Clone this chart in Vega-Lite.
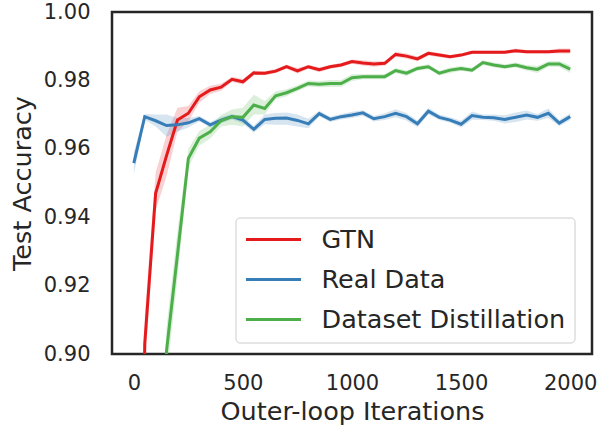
{
  "$schema": "https://vega.github.io/schema/vega-lite/v6.json",
  "width": 480,
  "height": 342,
  "autosize": "none",
  "padding": {"left": 112, "top": 12, "right": 8, "bottom": 77},
  "background": "white",
  "config": {
    "font": "DejaVu Sans",
    "view": {"stroke": "#262626", "strokeWidth": 2.5},
    "axis": {"grid": false, "ticks": false, "domain": false, "labelColor": "#262626", "titleColor": "#262626", "labelFontSize": 21, "titleFontSize": 25.5, "titleFontWeight": "normal", "labelFont": "DejaVu Sans", "titleFont": "DejaVu Sans"},
    "legend": {"labelFont": "DejaVu Sans"}
  },
  "data": {"values": [
    {"g":"GTN","x":0,"m":0.60,"lo":0.55,"hi":0.65},
    {"g":"GTN","x":50,"m":0.903,"lo":0.895,"hi":0.911},
    {"g":"GTN","x":100,"m":0.947,"lo":0.942,"hi":0.953},
    {"g":"GTN","x":150,"m":0.958,"lo":0.952,"hi":0.964},
    {"g":"GTN","x":200,"m":0.9684,"lo":0.965,"hi":0.972},
    {"g":"GTN","x":250,"m":0.9704,"lo":0.968,"hi":0.9725},
    {"g":"GTN","x":300,"m":0.9752,"lo":0.9735,"hi":0.9768},
    {"g":"GTN","x":350,"m":0.9772,"lo":0.976,"hi":0.9784},
    {"g":"GTN","x":400,"m":0.978,"lo":0.977,"hi":0.979},
    {"g":"GTN","x":450,"m":0.9803,"lo":0.9795,"hi":0.9811},
    {"g":"GTN","x":500,"m":0.9796,"lo":0.9788,"hi":0.9804},
    {"g":"GTN","x":550,"m":0.9822,"lo":0.9816,"hi":0.9828},
    {"g":"GTN","x":600,"m":0.9821,"lo":0.9815,"hi":0.9827},
    {"g":"GTN","x":650,"m":0.9827,"lo":0.9821,"hi":0.9833},
    {"g":"GTN","x":700,"m":0.984,"lo":0.9834,"hi":0.9846},
    {"g":"GTN","x":750,"m":0.9828,"lo":0.982,"hi":0.9836},
    {"g":"GTN","x":800,"m":0.984,"lo":0.9834,"hi":0.9846},
    {"g":"GTN","x":850,"m":0.9831,"lo":0.9824,"hi":0.9838},
    {"g":"GTN","x":900,"m":0.984,"lo":0.9834,"hi":0.9846},
    {"g":"GTN","x":950,"m":0.9845,"lo":0.9839,"hi":0.9851},
    {"g":"GTN","x":1000,"m":0.9855,"lo":0.9849,"hi":0.9861},
    {"g":"GTN","x":1050,"m":0.9851,"lo":0.9843,"hi":0.9859},
    {"g":"GTN","x":1100,"m":0.9848,"lo":0.984,"hi":0.9856},
    {"g":"GTN","x":1150,"m":0.985,"lo":0.9843,"hi":0.9857},
    {"g":"GTN","x":1200,"m":0.9876,"lo":0.9869,"hi":0.9883},
    {"g":"GTN","x":1250,"m":0.9871,"lo":0.9863,"hi":0.9879},
    {"g":"GTN","x":1300,"m":0.9863,"lo":0.9856,"hi":0.987},
    {"g":"GTN","x":1350,"m":0.9879,"lo":0.9873,"hi":0.9885},
    {"g":"GTN","x":1400,"m":0.9874,"lo":0.9868,"hi":0.988},
    {"g":"GTN","x":1450,"m":0.9869,"lo":0.9864,"hi":0.9874},
    {"g":"GTN","x":1500,"m":0.9874,"lo":0.9869,"hi":0.9879},
    {"g":"GTN","x":1550,"m":0.9882,"lo":0.9877,"hi":0.9887},
    {"g":"GTN","x":1600,"m":0.9882,"lo":0.9877,"hi":0.9887},
    {"g":"GTN","x":1650,"m":0.9882,"lo":0.9877,"hi":0.9887},
    {"g":"GTN","x":1700,"m":0.9882,"lo":0.9877,"hi":0.9887},
    {"g":"GTN","x":1750,"m":0.9887,"lo":0.9881,"hi":0.9893},
    {"g":"GTN","x":1800,"m":0.9884,"lo":0.9879,"hi":0.9889},
    {"g":"GTN","x":1850,"m":0.9884,"lo":0.9879,"hi":0.9889},
    {"g":"GTN","x":1900,"m":0.9884,"lo":0.9879,"hi":0.9889},
    {"g":"GTN","x":1950,"m":0.9886,"lo":0.9879,"hi":0.9893},
    {"g":"GTN","x":2000,"m":0.9886,"lo":0.9879,"hi":0.9893},
    {"g":"Real Data","x":0,"m":0.9558,"lo":0.9525,"hi":0.959},
    {"g":"Real Data","x":50,"m":0.9694,"lo":0.9685,"hi":0.9702},
    {"g":"Real Data","x":100,"m":0.9682,"lo":0.9665,"hi":0.97},
    {"g":"Real Data","x":150,"m":0.9668,"lo":0.9635,"hi":0.97},
    {"g":"Real Data","x":200,"m":0.967,"lo":0.965,"hi":0.969},
    {"g":"Real Data","x":250,"m":0.9676,"lo":0.9662,"hi":0.969},
    {"g":"Real Data","x":300,"m":0.9688,"lo":0.968,"hi":0.9696},
    {"g":"Real Data","x":350,"m":0.967,"lo":0.9662,"hi":0.9678},
    {"g":"Real Data","x":400,"m":0.9684,"lo":0.9675,"hi":0.9693},
    {"g":"Real Data","x":450,"m":0.9694,"lo":0.9686,"hi":0.9702},
    {"g":"Real Data","x":500,"m":0.9684,"lo":0.9674,"hi":0.9694},
    {"g":"Real Data","x":550,"m":0.9657,"lo":0.9647,"hi":0.9667},
    {"g":"Real Data","x":600,"m":0.9686,"lo":0.9672,"hi":0.97},
    {"g":"Real Data","x":650,"m":0.9689,"lo":0.967,"hi":0.9705},
    {"g":"Real Data","x":700,"m":0.969,"lo":0.967,"hi":0.9706},
    {"g":"Real Data","x":750,"m":0.9683,"lo":0.9665,"hi":0.97},
    {"g":"Real Data","x":800,"m":0.9673,"lo":0.966,"hi":0.9688},
    {"g":"Real Data","x":850,"m":0.9703,"lo":0.9695,"hi":0.9711},
    {"g":"Real Data","x":900,"m":0.9686,"lo":0.9678,"hi":0.9694},
    {"g":"Real Data","x":950,"m":0.9694,"lo":0.9686,"hi":0.9702},
    {"g":"Real Data","x":1000,"m":0.9699,"lo":0.969,"hi":0.9708},
    {"g":"Real Data","x":1050,"m":0.9705,"lo":0.9697,"hi":0.9713},
    {"g":"Real Data","x":1100,"m":0.9688,"lo":0.968,"hi":0.9696},
    {"g":"Real Data","x":1150,"m":0.9694,"lo":0.9684,"hi":0.9704},
    {"g":"Real Data","x":1200,"m":0.9704,"lo":0.9692,"hi":0.9716},
    {"g":"Real Data","x":1250,"m":0.9694,"lo":0.9683,"hi":0.9705},
    {"g":"Real Data","x":1300,"m":0.9673,"lo":0.9663,"hi":0.9683},
    {"g":"Real Data","x":1350,"m":0.971,"lo":0.97,"hi":0.972},
    {"g":"Real Data","x":1400,"m":0.9692,"lo":0.9684,"hi":0.97},
    {"g":"Real Data","x":1450,"m":0.9684,"lo":0.9676,"hi":0.9692},
    {"g":"Real Data","x":1500,"m":0.9672,"lo":0.9662,"hi":0.9682},
    {"g":"Real Data","x":1550,"m":0.9697,"lo":0.9685,"hi":0.9709},
    {"g":"Real Data","x":1600,"m":0.9692,"lo":0.9684,"hi":0.97},
    {"g":"Real Data","x":1650,"m":0.9691,"lo":0.9682,"hi":0.97},
    {"g":"Real Data","x":1700,"m":0.9686,"lo":0.9674,"hi":0.9698},
    {"g":"Real Data","x":1750,"m":0.9692,"lo":0.9678,"hi":0.9706},
    {"g":"Real Data","x":1800,"m":0.9699,"lo":0.9686,"hi":0.9712},
    {"g":"Real Data","x":1850,"m":0.9692,"lo":0.9682,"hi":0.9702},
    {"g":"Real Data","x":1900,"m":0.9704,"lo":0.969,"hi":0.9718},
    {"g":"Real Data","x":1950,"m":0.9675,"lo":0.9666,"hi":0.9684},
    {"g":"Real Data","x":2000,"m":0.9694,"lo":0.9684,"hi":0.9704},
    {"g":"Dataset Distillation","x":0,"m":0.55,"lo":0.5,"hi":0.6},
    {"g":"Dataset Distillation","x":50,"m":0.7,"lo":0.67,"hi":0.73},
    {"g":"Dataset Distillation","x":100,"m":0.82,"lo":0.8,"hi":0.84},
    {"g":"Dataset Distillation","x":150,"m":0.901,"lo":0.893,"hi":0.908},
    {"g":"Dataset Distillation","x":200,"m":0.929,"lo":0.922,"hi":0.936},
    {"g":"Dataset Distillation","x":250,"m":0.9572,"lo":0.9545,"hi":0.96},
    {"g":"Dataset Distillation","x":300,"m":0.9631,"lo":0.961,"hi":0.9652},
    {"g":"Dataset Distillation","x":350,"m":0.965,"lo":0.963,"hi":0.967},
    {"g":"Dataset Distillation","x":400,"m":0.9682,"lo":0.9665,"hi":0.9699},
    {"g":"Dataset Distillation","x":450,"m":0.9694,"lo":0.967,"hi":0.9715},
    {"g":"Dataset Distillation","x":500,"m":0.9692,"lo":0.9665,"hi":0.972},
    {"g":"Dataset Distillation","x":550,"m":0.9728,"lo":0.97,"hi":0.9758},
    {"g":"Dataset Distillation","x":600,"m":0.9718,"lo":0.97,"hi":0.974},
    {"g":"Dataset Distillation","x":650,"m":0.9755,"lo":0.9745,"hi":0.9768},
    {"g":"Dataset Distillation","x":700,"m":0.9764,"lo":0.9754,"hi":0.9774},
    {"g":"Dataset Distillation","x":750,"m":0.9777,"lo":0.9768,"hi":0.9786},
    {"g":"Dataset Distillation","x":800,"m":0.9791,"lo":0.9782,"hi":0.98},
    {"g":"Dataset Distillation","x":850,"m":0.9789,"lo":0.978,"hi":0.9798},
    {"g":"Dataset Distillation","x":900,"m":0.9791,"lo":0.9781,"hi":0.9801},
    {"g":"Dataset Distillation","x":950,"m":0.9791,"lo":0.9781,"hi":0.9801},
    {"g":"Dataset Distillation","x":1000,"m":0.9808,"lo":0.9798,"hi":0.9818},
    {"g":"Dataset Distillation","x":1050,"m":0.9811,"lo":0.9803,"hi":0.9819},
    {"g":"Dataset Distillation","x":1100,"m":0.9811,"lo":0.9803,"hi":0.9819},
    {"g":"Dataset Distillation","x":1150,"m":0.9811,"lo":0.9803,"hi":0.9819},
    {"g":"Dataset Distillation","x":1200,"m":0.9829,"lo":0.9822,"hi":0.9836},
    {"g":"Dataset Distillation","x":1250,"m":0.9821,"lo":0.9813,"hi":0.9829},
    {"g":"Dataset Distillation","x":1300,"m":0.9835,"lo":0.9828,"hi":0.9842},
    {"g":"Dataset Distillation","x":1350,"m":0.984,"lo":0.9833,"hi":0.9847},
    {"g":"Dataset Distillation","x":1400,"m":0.9821,"lo":0.9814,"hi":0.9828},
    {"g":"Dataset Distillation","x":1450,"m":0.983,"lo":0.9822,"hi":0.9838},
    {"g":"Dataset Distillation","x":1500,"m":0.9835,"lo":0.9828,"hi":0.9842},
    {"g":"Dataset Distillation","x":1550,"m":0.983,"lo":0.9823,"hi":0.9837},
    {"g":"Dataset Distillation","x":1600,"m":0.9852,"lo":0.9845,"hi":0.9859},
    {"g":"Dataset Distillation","x":1650,"m":0.9845,"lo":0.9838,"hi":0.9852},
    {"g":"Dataset Distillation","x":1700,"m":0.984,"lo":0.9833,"hi":0.9847},
    {"g":"Dataset Distillation","x":1750,"m":0.9845,"lo":0.9838,"hi":0.9852},
    {"g":"Dataset Distillation","x":1800,"m":0.9837,"lo":0.9829,"hi":0.9845},
    {"g":"Dataset Distillation","x":1850,"m":0.9832,"lo":0.9822,"hi":0.9842},
    {"g":"Dataset Distillation","x":1900,"m":0.9848,"lo":0.984,"hi":0.9856},
    {"g":"Dataset Distillation","x":1950,"m":0.9848,"lo":0.9839,"hi":0.9857},
    {"g":"Dataset Distillation","x":2000,"m":0.9833,"lo":0.9822,"hi":0.9844}
  ]},
  "encoding": {
    "x": {"field": "x", "type": "quantitative", "scale": {"domain": [-100, 2100], "nice": false, "zero": false},
      "axis": {"values": [0, 500, 1000, 1500, 2000], "format": "d", "title": "Outer-loop Iterations", "labelPadding": 18, "titlePadding": 6, "labelFlush": false}},
    "color": {"field": "g", "type": "nominal", "scale": {"domain": ["GTN", "Real Data", "Dataset Distillation"], "range": ["#e41a1c", "#377eb8", "#4daf4a"]},
      "legend": {"title": null, "orient": "none", "legendX": 123.5, "legendY": 205.5, "padding": 9, "fillColor": "white", "strokeColor": "#cccccc", "cornerRadius": 4, "labelFontSize": 25.5, "labelColor": "#262626", "symbolType": "stroke", "symbolSize": 3025, "symbolStrokeWidth": 3, "clipHeight": 26, "rowPadding": 13, "labelOffset": 19, "labelLimit": 400}}
  },
  "layer": [
    {
      "mark": {"type": "area", "fillOpacity": 0.2, "clip": true},
      "encoding": {
        "y": {"field": "lo", "type": "quantitative", "scale": {"domain": [0.9, 1.0], "nice": false, "zero": false},
          "axis": {"values": [0.9, 0.92, 0.94, 0.96, 0.98, 1.0], "format": ".2f", "title": "Test Accuracy", "labelPadding": 22, "titlePadding": 8}},
        "y2": {"field": "hi"}
      }
    },
    {
      "mark": {"type": "line", "strokeWidth": 3, "clip": true},
      "encoding": {
        "y": {"field": "m", "type": "quantitative"}
      }
    }
  ]
}
